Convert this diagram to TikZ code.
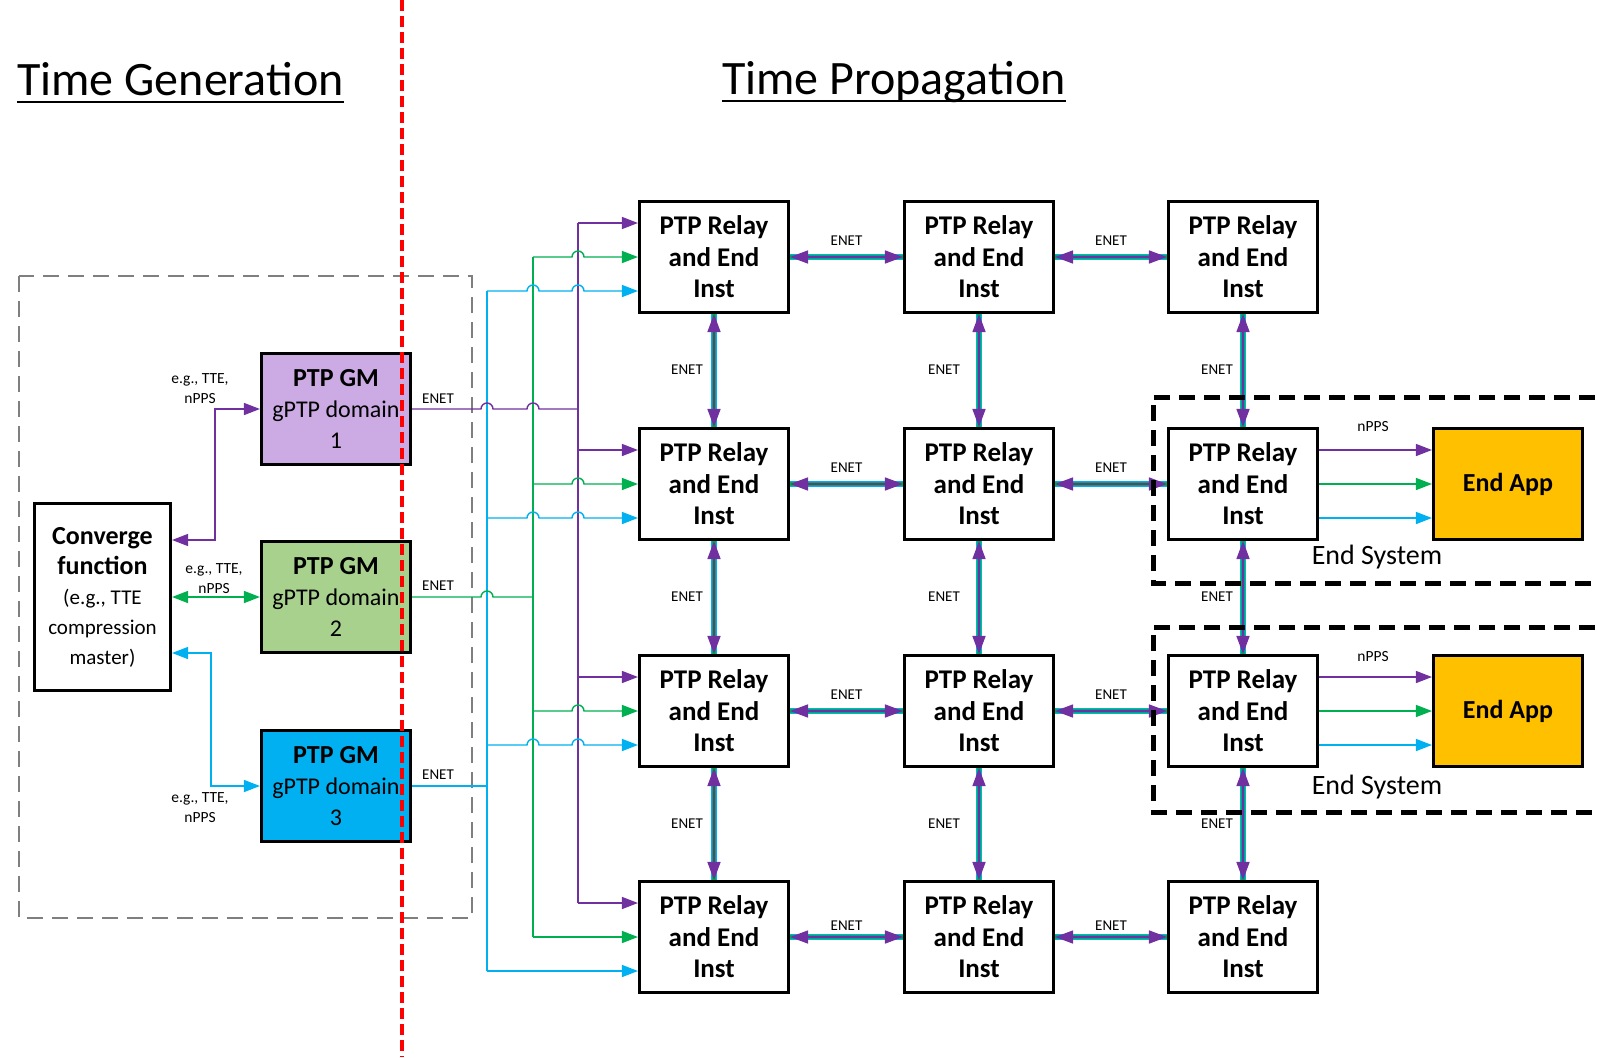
\documentclass[tikz,border=0pt]{standalone}
\usepackage{fontspec}
\setmainfont{Carlito}
\usetikzlibrary{arrows.meta}
\definecolor{ppl}{HTML}{7030A0}
\definecolor{grn}{HTML}{00B050}
\definecolor{cyn}{HTML}{00B0F0}
\definecolor{lav}{RGB}{204,170,228}
\definecolor{lgrn}{HTML}{A9D18E}
\definecolor{gold}{HTML}{FFC000}
\definecolor{gry}{HTML}{7F7F7F}
\begin{document}
\begin{tikzpicture}[x=1pt,y=-1pt,
  relay/.style={draw, line width=2.6pt, fill=white, minimum width=149.5pt, minimum height=111.5pt, inner sep=0pt, align=center, font=\fontsize{27}{31.5}\selectfont\bfseries},
  gmbox/.style={draw, line width=2.6pt, minimum width=149.5pt, minimum height=111.5pt, inner sep=0pt, align=center, font=\fontsize{24}{31}\selectfont},
  arr/.style={-{Triangle[length=16pt,width=12pt]}},
  darr/.style={{Triangle[length=16pt,width=12pt]}-{Triangle[length=16pt,width=12pt]}},
  thinline/.style={line width=1.4pt},
  enet/.style={draw=ppl, line width=1.6pt, {Triangle[length=18pt,width=13pt]}-{Triangle[length=18pt,width=13pt]},
     preaction={draw=cyn, line width=6pt, -},
     preaction={draw=grn, line width=3.6pt, -}},
  lab/.style={font=\fontsize{15}{18}\selectfont, inner sep=0pt},
  small/.style={font=\fontsize{15.5}{20}\selectfont, inner sep=0pt, align=center},
  title/.style={anchor=base west, inner sep=0pt, font=\fontsize{48}{52}\selectfont},
  endsys/.style={draw, line width=5pt, dash pattern=on 16pt off 9pt},
]
\useasboundingbox (0,0) rectangle (1597,1057);
\clip (0,0) rectangle (1597,1057);

% titles
\node[title] (t1) at (17,95) {Time Generation};
\node[title] (t2) at (722,94) {Time Propagation};
\draw[line width=2.6pt] ([yshift=-7pt]t1.base west) -- ([yshift=-7pt]t1.base east);
\draw[line width=2.6pt] ([yshift=-7pt]t2.base west) -- ([yshift=-7pt]t2.base east);

% grey dashed generation box
\draw[gry, line width=2.2pt, dash pattern=on 16pt off 9pt] (19,276) rectangle (472,918);

% relay grid
\foreach \r/\y in {1/257,2/484,3/711,4/937}
  \foreach \c/\x in {1/714,2/979,3/1243}
    \node[relay] (r\r\c) at (\x,\y) {PTP Relay\\and End\\Inst};

% GM boxes and converge function
\node[gmbox, fill=lav] (gm1) at (336,409) {\textbf{\fontsize{26}{31}\selectfont PTP GM}\\gPTP domain\\1};
\node[gmbox, fill=lgrn] (gm2) at (336,597) {\textbf{\fontsize{26}{31}\selectfont PTP GM}\\gPTP domain\\2};
\node[gmbox, fill=cyn] (gm3) at (336,786) {\textbf{\fontsize{26}{31}\selectfont PTP GM}\\gPTP domain\\3};
\node[draw, line width=2.6pt, minimum width=136.5pt, minimum height=187.5pt, inner sep=0pt, align=center,
      font=\fontsize{21}{30}\selectfont] (conv) at (102.5,597)
  {\textbf{\fontsize{26}{30}\selectfont Converge}\\\textbf{\fontsize{26}{30}\selectfont function}\\(e.g., TTE\\compression\\master)};

% end apps
\node[draw, line width=2.6pt, fill=gold, minimum width=149.5pt, minimum height=111.5pt, inner sep=0pt,
      font=\fontsize{26}{31}\selectfont\bfseries] (ea2) at (1508,484) {End App};
\node[draw, line width=2.6pt, fill=gold, minimum width=149.5pt, minimum height=111.5pt, inner sep=0pt,
      font=\fontsize{26}{31}\selectfont\bfseries] (ea3) at (1508,711) {End App};

% converge <-> GM links
\coordinate (pc1) at (215,409);
\coordinate (pc3) at (211,786);
\draw[thinline, ppl, darr] ([yshift=57pt]conv.east) -| (pc1) -- (gm1.west);
\draw[thinline, grn, darr] (conv.east) -- (gm2.west);
\draw[thinline, cyn, darr] ([yshift=-56pt]conv.east) -| (pc3) -- (gm3.west);
\node[small] (l1) at (200,389) {e.g., TTE,\\nPPS};
\node[small] (l2) at (214,579) {e.g., TTE,\\nPPS};
\node[small] (l3) at (200,808) {e.g., TTE,\\nPPS};

% trunks
\coordinate (tp1) at (578,223); \coordinate (tp2) at (578,903);
\coordinate (tg1) at (533,257); \coordinate (tg2) at (533,937);
\coordinate (tc1) at (487,291); \coordinate (tc2) at (487,971);
\draw[thinline, ppl] (tp1) -- (tp2);
\draw[thinline, grn] (tg1) -- (tg2);
\draw[thinline, cyn] (tc1) -- (tc2);

% GM -> trunks
\draw[thinline, ppl] (gm1.east) -- (481,409) arc[start angle=180,end angle=0,radius=6pt]
   -- (527,409) arc[start angle=180,end angle=0,radius=6pt] -- (578,409);
\draw[thinline, grn] (gm2.east) -- (481,597) arc[start angle=180,end angle=0,radius=6pt] -- (533,597);
\draw[thinline, cyn] (gm3.east) -- (487,786);
\node[lab] (e1) at (438,399) {ENET};
\node[lab] (e2) at (438,586) {ENET};
\node[lab] (e3) at (438,775) {ENET};

% trunk branches to first column
\foreach \r/\y in {1/257,2/484,3/711} {
  \draw[thinline, ppl, arr] (578,{\y-34}) -- ([yshift=34pt]r\r1.west);
  \draw[thinline, grn, arr] (533,\y) -- (572,\y) arc[start angle=180,end angle=0,radius=6pt] -- (r\r1.west);
  \draw[thinline, cyn, arr] (487,{\y+34}) -- (527,{\y+34}) arc[start angle=180,end angle=0,radius=6pt]
     -- (572,{\y+34}) arc[start angle=180,end angle=0,radius=6pt] -- ([yshift=-34pt]r\r1.west);
}
\draw[thinline, ppl, arr] (tp2) -- ([yshift=34pt]r41.west);
\draw[thinline, grn, arr] (tg2) -- (r41.west);
\draw[thinline, cyn, arr] (tc2) -- ([yshift=-34pt]r41.west);

% ENET links horizontal
\foreach \r in {1,2,3,4} {
  \draw[enet] (r\r1.east) -- (r\r2.west);
  \draw[enet] (r\r2.east) -- (r\r3.west);
}
\node[lab] at (846.5,241) {ENET}; \node[lab] at (1111,241) {ENET};
\node[lab] at (846.5,468) {ENET}; \node[lab] at (1111,468) {ENET};
\node[lab] at (846.5,695) {ENET}; \node[lab] at (1111,695) {ENET};
\node[lab] at (846.5,926) {ENET}; \node[lab] at (1111,926) {ENET};

% ENET links vertical
\foreach \r/\n/\y in {1/2/370,2/3/597,3/4/824} {
  \draw[enet] (r\r1.south) -- (r\n1.north);
  \draw[enet] (r\r2.south) -- (r\n2.north);
  \draw[enet] (r\r3.south) -- (r\n3.north);
  \node[lab] at (687,\y) {ENET};
  \node[lab] at (944,\y) {ENET};
  \node[lab] at (1217,\y) {ENET};
}

% end system links
\foreach \a/\b in {r23/ea2, r33/ea3} {
  \draw[thinline, ppl, arr] ([yshift=34pt]\a.east) -- ([yshift=34pt]\b.west);
  \draw[thinline, grn, arr] (\a.east) -- (\b.west);
  \draw[thinline, cyn, arr] ([yshift=-34pt]\a.east) -- ([yshift=-34pt]\b.west);
}
\node[small] at (1373,427) {nPPS};
\node[small] at (1373,657) {nPPS};

% end system boxes
\draw[endsys] (1620,397) -- (1153,397) -- (1153,583) -- (1620,583);
\draw[endsys] (1620,627) -- (1153,627) -- (1153,812) -- (1620,812);
\node[font=\fontsize{28}{32}\selectfont, inner sep=0pt] at (1377,557) {End System};
\node[font=\fontsize{28}{32}\selectfont, inner sep=0pt] at (1377,787) {End System};

% red separator
\draw[red, line width=4pt, dash pattern=on 11pt off 5pt] (402,0) -- (402,1057);
\end{tikzpicture}
\end{document}
